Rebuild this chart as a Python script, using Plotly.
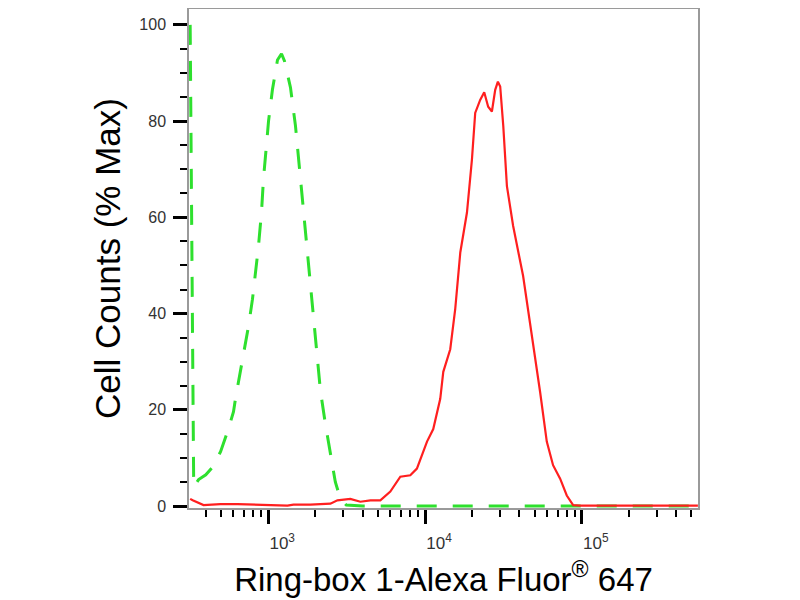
import plotly.graph_objects as go

# control (isotype) histogram - green dashed
green_x = [318, 335, 360, 400, 440, 497, 551, 601, 620, 667, 716, 750, 794, 830, 867,
           906, 933, 975, 1005, 1064, 1146, 1216, 1270, 1387, 1493, 1607, 1726, 1858,
           2000, 2153, 2317, 2494, 2680, 2890, 3150, 4000, 10000, 50000, 200000, 550000]
green_y = [100, 4, 5.5, 6.5, 8, 11.3, 15.5, 19.6, 22.5, 28, 34, 37.5, 43, 48, 54,
           61, 68, 75, 80, 86.5, 92.7, 94, 92.5, 87, 79, 68, 57, 47,
           36, 24, 17, 11, 5, 1.5, 0.2, 0, 0, 0, 0, 0]

# stained sample histogram - red
red_x = [318, 330, 387, 496, 637, 1035, 1327, 1449, 1858, 2494, 2763, 3340, 3870, 4490,
         5190, 6010, 6960, 8060, 8880, 10300, 11290, 12510, 13080, 14490, 15590, 16790,
         18520, 19920, 20900, 22490, 23860, 25290, 26710, 28040, 29170, 30170, 31560,
         33300, 36490, 42240, 48940, 54210, 59790, 65580, 72750, 80190, 88050, 97500,
         200000, 550000]
red_y = [1.5, 1.2, 0.2, 0.4, 0.4, 0.1, 0.1, 0.3, 0.3, 0.5, 1.2, 1.5, 0.9, 1.2,
         1.2, 3, 6.1, 6.4, 7.8, 13.4, 16, 22.3, 27.9, 32.6, 41, 52.7,
         61, 72, 81.7, 84.4, 86, 83, 82, 86.5, 88.2, 87.2, 79,
         66.5, 58.2, 47.8, 34, 23.7, 13.4, 8.5, 5.7, 2.2, 0.2, 0.1,
         0.1, 0.1]

x_major = [1000, 10000, 100000]
x_major_text = ["10<sup>3</sup>", "10<sup>4</sup>", "10<sup>5</sup>"]
x_minor = [400, 500, 600, 700, 800, 900,
           2000, 3000, 4000, 5000, 6000, 7000, 8000, 9000,
           20000, 30000, 40000, 50000, 60000, 70000, 80000, 90000,
           200000, 300000, 400000, 500000]
y_major = [0, 20, 40, 60, 80, 100]

FONT = "Liberation Sans, Arial, sans-serif"

fig = go.Figure()
fig.add_trace(go.Scatter(x=green_x, y=green_y, mode="lines",
                         line=dict(color="#2ee02e", width=3, dash="20px,16px"),
                         showlegend=False))
fig.add_trace(go.Scatter(x=red_x, y=red_y, mode="lines",
                         line=dict(color="#ff1f1f", width=2.2),
                         showlegend=False))

# page body has an 8px margin, margins below allow for it
fig.update_layout(
    width=800, height=600,
    margin=dict(l=181, r=110, t=1, b=100),
    paper_bgcolor="white", plot_bgcolor="white",
    font=dict(family=FONT, color="#000"),
)

fig.update_xaxes(
    type="log", range=[2.495, 5.741], automargin=False,
    showgrid=False, zeroline=False,
    showline=True, linecolor="#9a9a9a", linewidth=1.5, mirror=True,
    tickmode="array", tickvals=x_major, ticktext=x_major_text,
    ticks="outside", ticklen=14, tickwidth=3, tickcolor="#000",
    tickfont=dict(size=17, color="#333"), ticklabelshift=14, ticklabelstandoff=5,
    minor=dict(tickvals=x_minor, ticks="outside", ticklen=7, tickwidth=1.5,
               tickcolor="#000", showgrid=False),
    title=dict(text="Ring-box 1-Alexa Fluor<sup>®</sup> 647",
               font=dict(size=33, color="#000"), standoff=16),
)

fig.update_yaxes(
    range=[-0.4, 103.3], automargin=False,
    showgrid=False, zeroline=False,
    showline=True, linecolor="#9a9a9a", linewidth=1.5, mirror=True,
    tickmode="array", tickvals=y_major,
    ticks="outside", ticklen=14, tickwidth=3, tickcolor="#000",
    tickfont=dict(size=16, color="#333"), ticklabelstandoff=4,
    minor=dict(dtick=5, ticks="outside", ticklen=7, tickwidth=1.5,
               tickcolor="#000", showgrid=False),
    title=dict(text="Cell Counts (% Max)",
               font=dict(size=35, color="#000"), standoff=8),
)

fig.write_html("out.html")
